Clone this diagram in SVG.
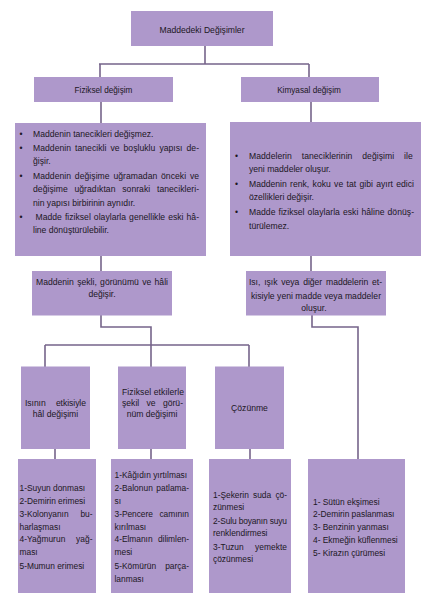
<svg xmlns="http://www.w3.org/2000/svg" width="439" height="599" viewBox="0 0 439 599">
<style>
.box{fill:#ae98cb;}
.conn{fill:none;stroke:#76648a;stroke-width:1.6;}
text{font-family:"Liberation Sans","DejaVu Sans",sans-serif;fill:#1c1724;}
.h1{font-size:8.6px;text-anchor:middle;}
.h2{font-size:8.2px;text-anchor:middle;}
.p{font-size:8.6px;}
.s{font-size:8.4px;}
.c{text-anchor:middle;}
</style>
<rect width="439" height="599" fill="#ffffff"/>
<g id="connectors" class="conn">
<path d="M205,46 V64 M99,64 H309 M100,64 V77 M309,64 V77"/>
<path d="M101,102 V123 M311,102 V122"/>
<path d="M101,256 V271 M311,256 V271"/>
<path d="M101,315 V327 H151 V367 M45,345 H249 M45,345 V367 M249,345 V367"/>
<path d="M312,315 V327 H358 V459"/>
<path d="M55,449 V459 M151,449 V459 M250,449 V459"/>
</g>
<g id="root">
<rect class="box" x="131" y="11" width="142" height="35"/>
<text class="h1" x="202" y="33">Maddedeki Değişimler</text>
</g>
<g id="fiziksel">
<rect class="box" x="34" y="77" width="139" height="25"/>
<text class="h2" x="103.5" y="92.7">Fiziksel değişim</text>
</g>
<g id="kimyasal">
<rect class="box" x="241" y="77" width="138" height="25"/>
<text class="h2" x="309" y="92.7">Kimyasal değişim</text>
</g>
<g id="fiziksel-ozellik">
<rect class="box" x="15" y="123" width="191" height="133"/>
<text class="p" x="19.5" y="137">•</text>
<text class="p" x="19.5" y="150.7">•</text>
<text class="p" x="19.5" y="179">•</text>
<text class="p" x="19.5" y="220.3">•</text>
<text class="p" x="33" y="137">Maddenin tanecikleri değişmez.</text>
<text class="p" x="33" y="150.7" word-spacing="1.6" textLength="166">Maddenin tanecikli ve boşluklu yapısı de-</text>
<text class="p" x="33" y="163.7">ğişir.</text>
<text class="p" x="33" y="179" word-spacing="1.3" textLength="166">Maddenin değişime uğramadan önceki ve</text>
<text class="p" x="33" y="192" word-spacing="4.3" textLength="166">değişime uğradıktan sonraki tanecikleri-</text>
<text class="p" x="33" y="205.7">nin yapısı birbirinin aynıdır.</text>
<text class="p" x="35.5" y="220.3" word-spacing="0.6" textLength="163.5">Madde fiziksel olaylarla genellikle eski hâ-</text>
<text class="p" x="33" y="233">line dönüştürülebilir.</text>
</g>
<g id="kimyasal-ozellik">
<rect class="box" x="230" y="122" width="191" height="134"/>
<text class="p" x="235" y="158.7">•</text>
<text class="p" x="235" y="187">•</text>
<text class="p" x="235" y="215.3">•</text>
<text class="p" x="249" y="158.7" word-spacing="7.5" textLength="163.7">Maddelerin taneciklerinin değişimi ile</text>
<text class="p" x="249" y="172">yeni maddeler oluşur.</text>
<text class="p" x="249" y="187" word-spacing="1" textLength="165">Maddenin renk, koku ve tat gibi ayırt edici</text>
<text class="p" x="249" y="200.3">özellikleri değişir.</text>
<text class="p" x="249" y="215.3" word-spacing="0.6" textLength="165">Madde fiziksel olaylarla eski hâline dönüş-</text>
<text class="p" x="249" y="228.7">türülemez.</text>
</g>
<g id="fiziksel-tanim">
<rect class="box" x="32" y="271" width="140" height="44.5"/>
<text class="p" x="36" y="284.7" word-spacing="0.9" textLength="132">Maddenin şekli, görünümü ve hâli</text>
<text class="p c" x="102" y="297">değişir.</text>
</g>
<g id="kimyasal-tanim">
<rect class="box" x="246" y="271" width="140" height="44.5"/>
<text class="p" x="249" y="285.3" word-spacing="1.6" textLength="133">Isı, ışık veya diğer maddelerin et-</text>
<text class="p" x="251" y="298.7" textLength="130">kisiyle yeni madde veya maddeler</text>
<text class="p c" x="314" y="310.7">oluşur.</text>
</g>
<g id="hal-degisimi">
<rect class="box" x="21" y="366.5" width="69" height="82.5"/>
<text class="p" x="25" y="406" word-spacing="7.9" textLength="61">Isının etkisiyle</text>
<text class="p c" x="55.5" y="417">hâl değişimi</text>
</g>
<g id="sekil-degisimi">
<rect class="box" x="118" y="366.5" width="68" height="82.5"/>
<text class="p" x="122" y="395" textLength="62">Fiziksel etkilerle</text>
<text class="p" x="122" y="406" word-spacing="4.9" textLength="61">şekil ve görü-</text>
<text class="p c" x="152" y="417">nüm değişimi</text>
</g>
<g id="cozunme">
<rect class="box" x="215" y="366.5" width="69" height="82.5"/>
<text class="p c" x="249.5" y="411">Çözünme</text>
</g>
<g id="hal-ornek">
<rect class="box" x="18" y="459" width="78" height="134"/>
<text class="s" x="19.5" y="490.8">1-Suyun donması</text>
<text class="s" x="19.5" y="503.8">2-Demirin erimesi</text>
<text class="s" x="19.5" y="516.8" word-spacing="9.6" textLength="73">3-Kolonyanın bu-</text>
<text class="s" x="19.5" y="529.8">harlaşması</text>
<text class="s" x="19.5" y="542.1" word-spacing="8.4" textLength="73">4-Yağmurun yağ-</text>
<text class="s" x="19.5" y="555.1">ması</text>
<text class="s" x="19.5" y="569.1">5-Mumun erimesi</text>
</g>
<g id="sekil-ornek">
<rect class="box" x="111" y="459" width="82" height="134"/>
<text class="s" x="114.5" y="478.1">1-Kâğıdın yırtılması</text>
<text class="s" x="114.5" y="491.1" word-spacing="1.2" textLength="74.5">2-Balonun patlama-</text>
<text class="s" x="114.5" y="504.1">sı</text>
<text class="s" x="114.5" y="517.1" word-spacing="4.3" textLength="74.5">3-Pencere camının</text>
<text class="s" x="114.5" y="530.1">kırılması</text>
<text class="s" x="114.5" y="542.1" word-spacing="3" textLength="74.5">4-Elmanın dilimlen-</text>
<text class="s" x="114.5" y="555.1">mesi</text>
<text class="s" x="114.5" y="569.1" word-spacing="6.8" textLength="74.5">5-Kömürün parça-</text>
<text class="s" x="114.5" y="582.1">lanması</text>
</g>
<g id="cozunme-ornek">
<rect class="box" x="209" y="459" width="82" height="134"/>
<text class="s" x="213" y="498.1" word-spacing="1.9" textLength="74">1-Şekerin suda çö-</text>
<text class="s" x="213" y="510.1">zünmesi</text>
<text class="s" x="213" y="524.1" textLength="74">2-Sulu boyanın suyu</text>
<text class="s" x="213" y="536.1">renklendirmesi</text>
<text class="s" x="213" y="550.1" word-spacing="9" textLength="74">3-Tuzun yemekte</text>
<text class="s" x="213" y="562.1">çözünmesi</text>
</g>
<g id="kimyasal-ornek">
<rect class="box" x="308" y="459" width="97" height="134"/>
<text class="s" x="313" y="505.1">1- Sütün ekşimesi</text>
<text class="s" x="313" y="517.1">2-Demirin paslanması</text>
<text class="s" x="313" y="530.1">3- Benzinin yanması</text>
<text class="s" x="313" y="543.1">4- Ekmeğin küflenmesi</text>
<text class="s" x="313" y="556.1">5- Kirazın çürümesi</text>
</g>
</svg>
